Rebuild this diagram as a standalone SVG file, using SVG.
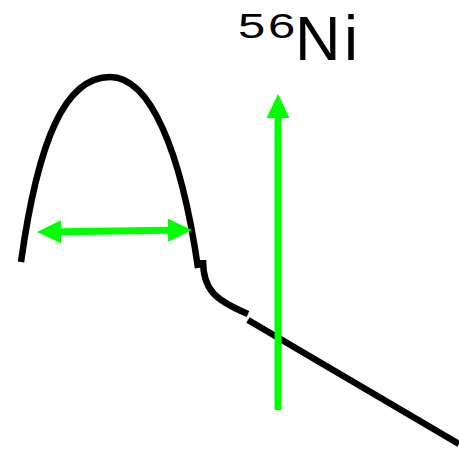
<svg xmlns="http://www.w3.org/2000/svg" width="459" height="449" viewBox="0 0 459 449">
<style>
.curve{fill:none;stroke:#000;stroke-width:6.5}
.arrow{fill:none;stroke:#00ff00;stroke-width:7}
.lbl{font-family:"Liberation Sans",Arial,sans-serif;fill:#000}
</style>
<defs>
<marker id="head" markerUnits="userSpaceOnUse" markerWidth="24" markerHeight="24" refX="0" refY="11.5" orient="auto-start-reverse" viewBox="0 0 24 23">
<path d="M0,0 L24,11.5 L0,23 z" fill="#00ff00"/>
</marker>
</defs>
<rect width="459" height="449" fill="#fff"/>
<g id="profile">
<path class="curve" d="M21,262 C38,140 65,77 110,77 C150,77 181,150 198,268"/>
<path class="curve" d="M203,260 C203,290 215,300 248,314"/>
<path class="curve" d="M248,320 L459,444"/>
</g>
<g id="connectors">
<line class="arrow" x1="61" y1="231.7" x2="168" y2="230.3" marker-start="url(#head)" marker-end="url(#head)"/>
<line class="arrow" x1="278" y1="410" x2="278" y2="118" marker-end="url(#head)"/>
</g>
<g id="label">
<text class="lbl" font-size="35" letter-spacing="2" transform="scale(1.4,1)" x="170" y="38">56</text>
<text class="lbl" font-size="63" y="60"><tspan x="295">N</tspan><tspan x="344">i</tspan></text>
</g>
</svg>
